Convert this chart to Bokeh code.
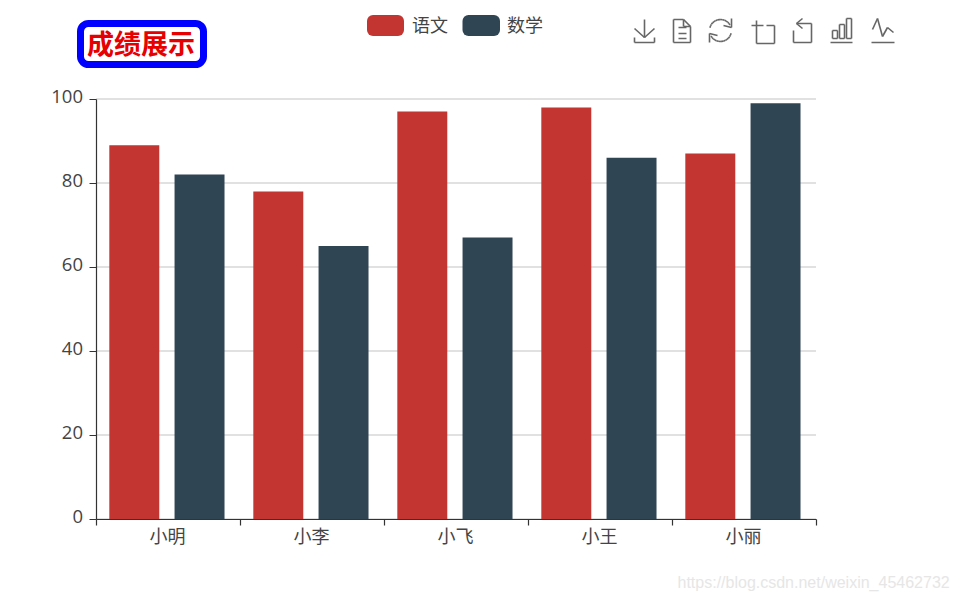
import math
from bokeh.plotting import figure
from bokeh.models import (ColumnDataSource, Range1d, FixedTicker, BoxAnnotation, Label, Arrow, LinearAxis)
from bokeh.embed import file_html
from bokeh.resources import INLINE

names = ["小明", "小李", "小飞", "小王", "小丽"]
chinese = [89, 78, 97, 98, 87]
math_scores = [82, 65, 67, 86, 99]
series_names = ["语文", "数学"]
colors = ["#c23531", "#2f4554"]
y_ticks = [0, 20, 40, 60, 80, 100]

CJK = "Noto Sans CJK SC"
W, H = 958, 600
# plot area inside the canvas, in page pixels
LEFT, RIGHT, TOP, BOTTOM = 95.5, 815.5, 98.5, 518.5
px_x = (RIGHT - LEFT) / len(names)
px_y = (BOTTOM - TOP) / 100

p = figure(width=W, height=H, output_backend="svg", toolbar_location=None,
           x_axis_type=None, y_axis_type=None,
           x_range=Range1d(-LEFT / px_x, (W - LEFT) / px_x),
           y_range=Range1d(-(H - BOTTOM) / px_y, BOTTOM / px_y),
           min_border=0, background_fill_color="white", border_fill_color="white", outline_line_color=None)
p.grid.visible = False

centers = [i + 0.5 for i in range(len(names))]
off0, off1, bar_w = -0.234, 0.219, 0.347

# grid
p.segment(x0=[0] * len(y_ticks), x1=[len(names)] * len(y_ticks), y0=y_ticks, y1=y_ticks,
          line_color="#c4c4c4", line_width=1.2)
p.vbar(x=[c + off0 for c in centers], top=chinese, width=bar_w, bottom=0, color=colors[0], line_color=None)
p.vbar(x=[c + off1 for c in centers], top=math_scores, width=bar_w, bottom=0, color=colors[1], line_color=None)

# axes
xa = LinearAxis(fixed_location=0, bounds=(0, len(names)))
xa.ticker = FixedTicker(ticks=[c - 0.004 for c in centers], minor_ticks=list(range(len(names) + 1)))
xa.major_label_overrides = {c - 0.004: n for c, n in zip(centers, names)}
xa.major_tick_line_color = None
xa.major_tick_out = 0
xa.major_tick_in = 0
xa.minor_tick_out = 6
xa.minor_tick_in = 0
xa.minor_tick_line_color = "#333333"
xa.minor_tick_line_width = 1.2
xa.axis_line_color = "#333333"
xa.axis_line_width = 1.2
xa.major_label_text_font = CJK
xa.major_label_text_font_size = "18px"
xa.major_label_text_color = "#444444"
xa.major_label_standoff = -3
p.add_layout(xa, "below")

# y axis: line and ticks
ya = LinearAxis(fixed_location=0, bounds=(0, 100))
ya.ticker = FixedTicker(ticks=y_ticks, minor_ticks=[])
ya.major_tick_out = 7
ya.major_tick_in = 0
ya.major_tick_line_color = "#333333"
ya.major_tick_line_width = 1.2
ya.axis_line_color = "#333333"
ya.axis_line_width = 1.2
ya.major_label_text_font_size = "0px"
ya.major_label_text_color = None
p.add_layout(ya, "left")

# y axis: labels, on a range lifted by 3 pixels as in the reference
lift = 2.5 / px_y
p.extra_y_ranges["labels"] = Range1d(p.y_range.start - lift, p.y_range.end - lift)
yl = LinearAxis(fixed_location=0, y_range_name="labels")
yl.ticker = FixedTicker(ticks=y_ticks, minor_ticks=[])
yl.axis_line_color = None
yl.major_tick_line_color = None
yl.major_tick_out = 7
yl.major_tick_in = 0
yl.major_label_text_font = "Open Sans"
yl.major_label_text_font_size = "18.5px"
yl.major_label_text_color = "#444444"
yl.major_label_standoff = 6
p.add_layout(yl, "left")


def box(x0, y0, x1, y1, **kw):
    p.add_layout(BoxAnnotation(left=x0, right=x1, top=H - y0, bottom=H - y1,
                               left_units="screen", right_units="screen",
                               top_units="screen", bottom_units="screen",
                               line_alpha=1, **kw))


def text(x, y, s, **kw):
    p.add_layout(Label(x=x, y=H - y, x_units="screen", y_units="screen", text=s, **kw))


# title
box(80, 23, 203, 64, fill_color="white", fill_alpha=1, line_color="#0000ff", line_width=7, border_radius=8)
text(140.5, 42, "成绩展示", text_font=CJK, text_font_size="27px", text_font_style="bold",
     text_color="#e60000", text_align="center", text_baseline="middle")

# legend
box(366.5, 14.5, 403.5, 35.5, fill_color=colors[0], fill_alpha=1, line_color=None, border_radius=6)
box(462, 14.5, 499.5, 35.5, fill_color=colors[1], fill_alpha=1, line_color=None, border_radius=6)
text(411.5, 23, series_names[0], text_font=CJK, text_font_size="18px", text_color="#444444", text_baseline="middle")
text(506.5, 23, series_names[1], text_font=CJK, text_font_size="18px", text_color="#444444", text_baseline="middle")

# watermark
text(677, 582, "https://blog.csdn.net/weixin_45462732", text_font="Liberation Sans", text_font_size="16px",
     text_color="#e6e6e6", text_baseline="middle")


# toolbox icons
def arc(cx, cy, r, a0, a1, n=14):
    return [(cx + r * math.cos(math.radians(a0 + (a1 - a0) * i / n)),
             cy + r * math.sin(math.radians(a0 + (a1 - a0) * i / n))) for i in range(n + 1)]


icons = [
    [(644, 19), (644, 37)], [(634, 28), (644, 37), (654, 28)], [(634, 37), (634, 42), (654, 42), (654, 37)],
    [(683, 19), (673, 19), (673, 42), (690, 42), (690, 26), (683, 19), (683, 26), (690, 26)],
    [(678, 27), (686, 27)], [(678, 33), (686, 33)], [(678, 38), (686, 38)],
    arc(720, 30, 11, 195, 330), arc(720, 30, 11, 15, 150),
    [(731, 18), (731, 27), (723, 25)], [(709, 42), (709, 33), (717, 35)],
    [(751, 25), (763, 25)], [(756, 20), (756, 43), (774, 43), (774, 25), (766, 25)],
    [(802, 18), (796, 23), (802, 28)], [(796, 23), (811, 23), (811, 42), (793, 42), (793, 30)],
    [(830, 42), (852, 42)],
    [(832, 38), (832, 30), (837, 30), (837, 38), (832, 38)],
    [(839, 38), (839, 24), (844, 24), (844, 38), (839, 38)],
    [(846, 38), (846, 18), (851, 18), (851, 38), (846, 38)],
    [(871, 42), (894, 42)],
    [(872, 29), (877, 18), (882, 36), (887, 27), (893, 32)],
]
x0s, y0s, x1s, y1s = [], [], [], []
for line in icons:
    for (a, b), (c, d) in zip(line[:-1], line[1:]):
        x0s.append(a); y0s.append(H - b); x1s.append(c); y1s.append(H - d)
src = ColumnDataSource(dict(x0=x0s, y0=y0s, x1=x1s, y1=y1s))
p.add_layout(Arrow(end=None, source=src, x_start="x0", y_start="y0", x_end="x1", y_end="y1",
                   start_units="screen", end_units="screen", line_color="#666666", line_width=1.6))

open("out.html", "w").write(file_html(p, INLINE))
